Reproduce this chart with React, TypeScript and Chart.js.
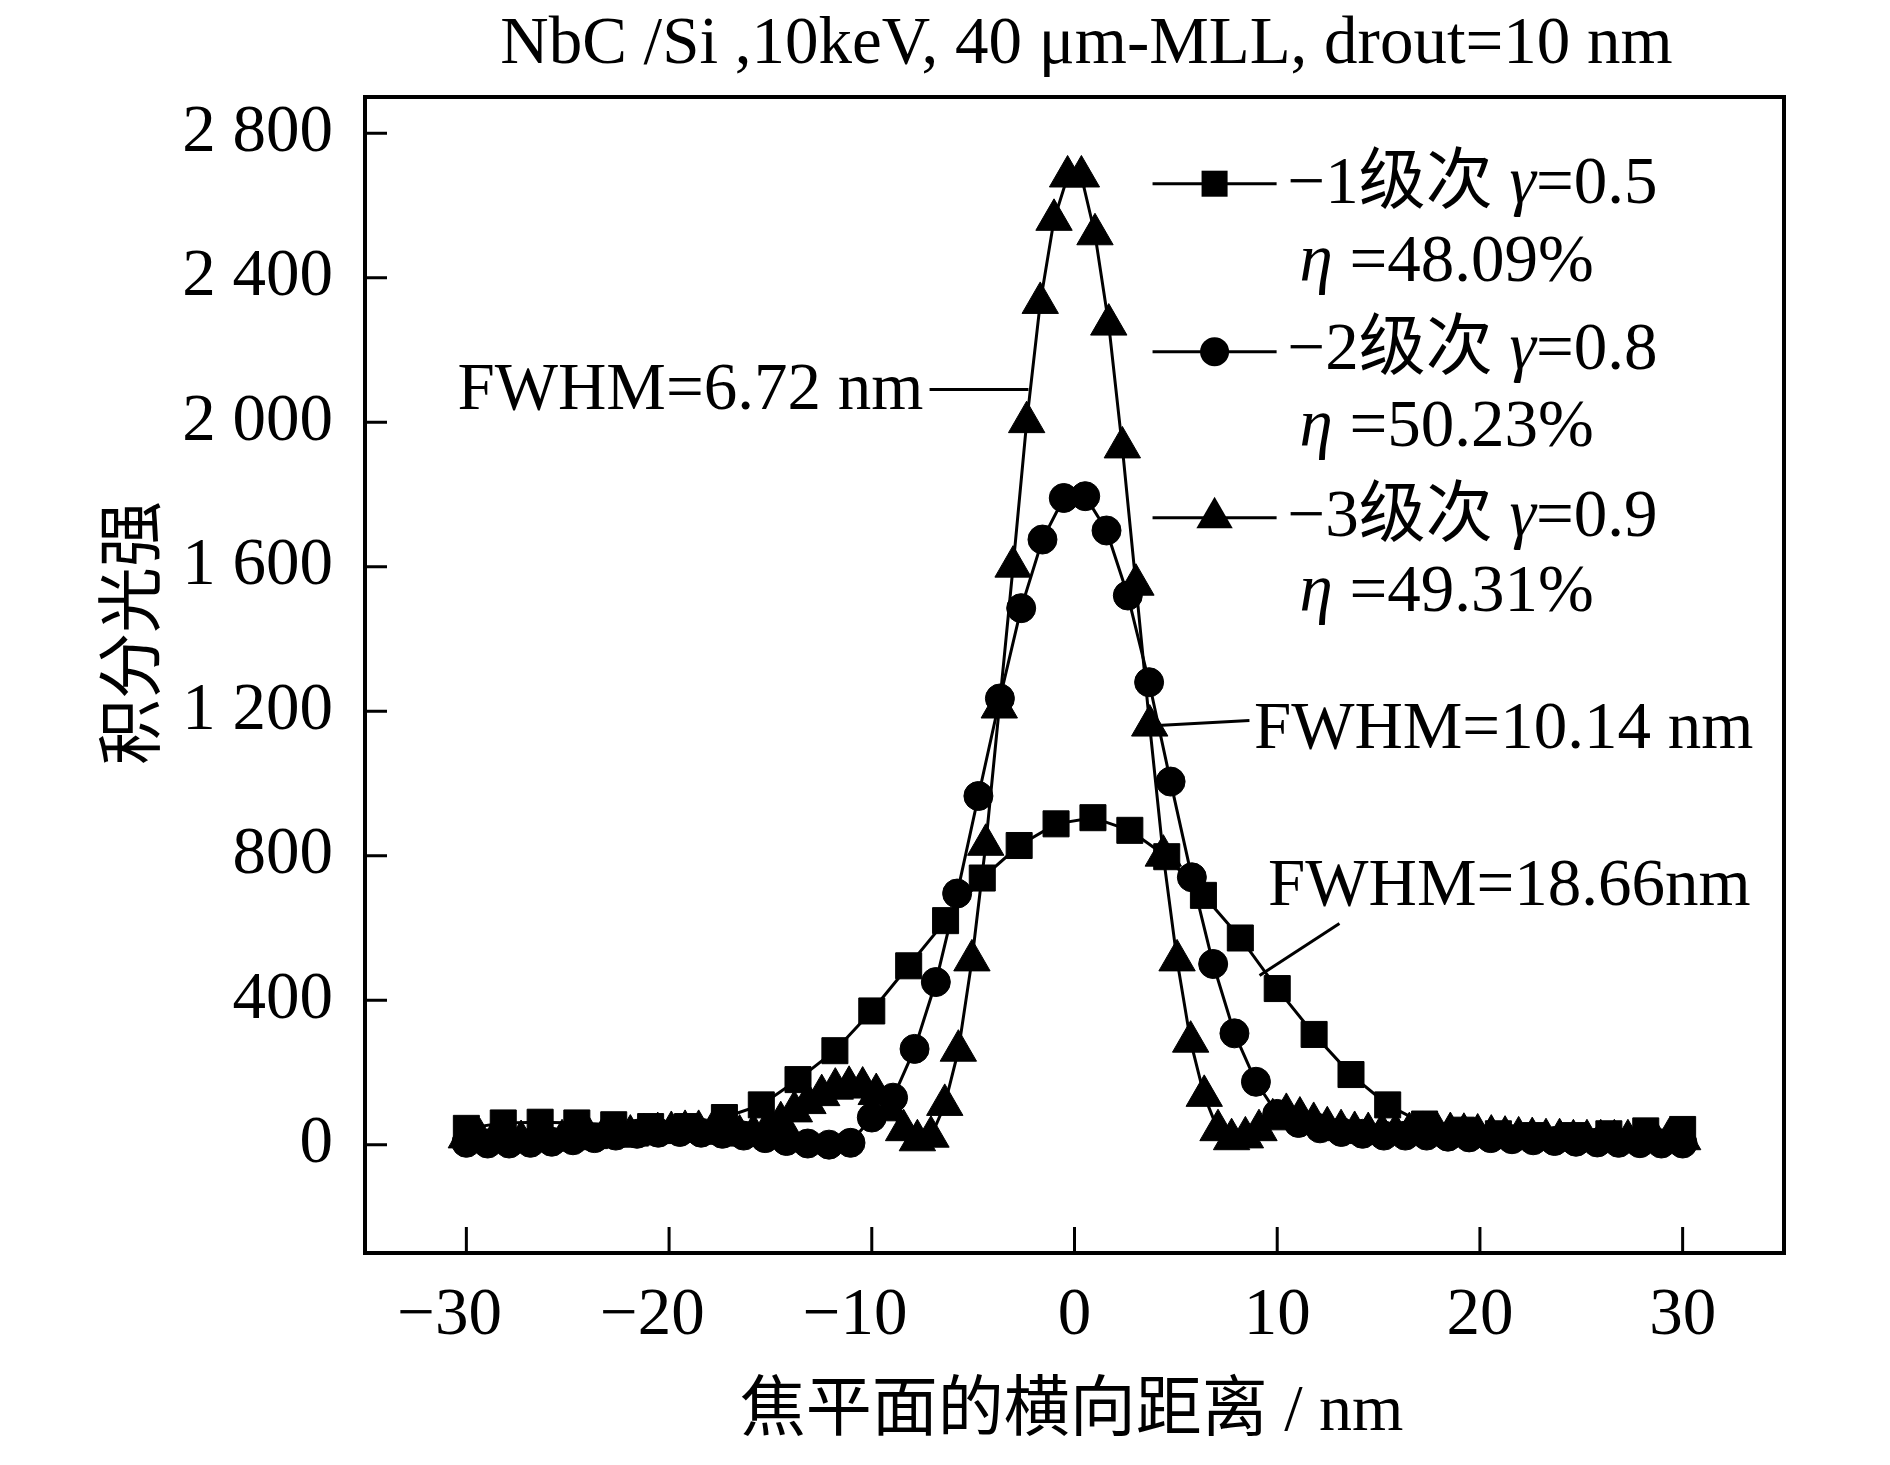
import { useEffect, useRef } from 'react';
import { Chart, registerables } from 'chart.js';

Chart.register(...registerables);

const SERIF = '"Liberation Serif", "Times New Roman", "Noto Sans CJK SC", serif';

const chartTitle = 'NbC /Si ,10keV, 40 μm-MLL, drout=10 nm';
const xTitle = '焦平面的横向距离 / nm';
const yTitle = '积分光强';

const xTicks = [-30, -20, -10, 0, 10, 20, 30];
// trailing en space keeps the digits (not the minus) centred on the tick
const xTickLabels = ['−30\u2002', '−20\u2002', '−10\u2002', '0', '10', '20', '30'];
const yTicks = [0, 400, 800, 1200, 1600, 2000, 2400, 2800];
const yTickLabels = ['0', '400', '800', '1 200', '1 600', '2 000', '2 400', '2 800'];

// -1 order, squares
const order1X = [
  -30, -28.18, -26.36, -24.55, -22.73, -20.91, -19.09, -17.27, -15.45, -13.64,
  -11.82, -10, -8.18, -6.36, -4.55, -2.73, -0.91, 0.91, 2.73, 4.55,
  6.36, 8.18, 10, 11.82, 13.64, 15.45, 17.27, 19.09, 20.91, 22.73,
  24.55, 26.36, 28.18, 30,
];
const order1Y = [
  45, 60, 62, 60, 55, 50, 50, 75, 110, 180,
  260, 370, 495, 620, 738, 828, 888, 905, 870, 797,
  690, 572, 432, 305, 194, 110, 57, 40, 30, 25,
  25, 30, 38, 42,
];

// -2 order, circles
const order2X = [
  -30, -28.95, -27.89, -26.84, -25.79, -24.74, -23.68, -22.63, -21.58, -20.53,
  -19.47, -18.42, -17.37, -16.32, -15.26, -14.21, -13.16, -12.11, -11.05, -10,
  -8.95, -7.89, -6.84, -5.79, -4.74, -3.68, -2.63, -1.58, -0.53, 0.53,
  1.58, 2.63, 3.68, 4.74, 5.79, 6.84, 7.89, 8.95, 10, 11.05,
  12.11, 13.16, 14.21, 15.26, 16.32, 17.37, 18.42, 19.47, 20.53, 21.58,
  22.63, 23.68, 24.74, 25.79, 26.84, 27.89, 28.95, 30,
];
const order2Y = [
  5, 3, 3, 5, 8, 12, 18, 25, 30, 33,
  35, 33, 30, 25, 18, 10, 3, 0, 5, 75,
  130, 265, 450, 695, 965, 1235, 1485, 1675, 1790, 1795,
  1700, 1520, 1280, 1005, 740, 500, 308, 174, 85, 60,
  45, 35, 30, 25, 25, 25, 22, 20, 18, 15,
  12, 10, 8, 6, 5, 4, 3, 3,
];

// -3 order, triangles
const order3X = [
  -30, -29.33, -28.65, -27.98, -27.3, -26.63, -25.96, -25.28, -24.61, -23.93,
  -23.26, -22.58, -21.91, -21.24, -20.56, -19.89, -19.21, -18.54, -17.87, -17.19,
  -16.52, -15.84, -15.17, -14.49, -13.82, -13.15, -12.47, -11.8, -11.12, -10.45,
  -9.78, -9.1, -8.43, -7.75, -7.08, -6.4, -5.73, -5.06, -4.38, -3.71,
  -3.03, -2.36, -1.69, -1.01, -0.34, 0.34, 1.01, 1.69, 2.36, 3.03,
  3.71, 4.38, 5.06, 5.73, 6.4, 7.08, 7.75, 8.43, 9.1, 9.78,
  10.45, 11.12, 11.8, 12.47, 13.15, 13.82, 14.49, 15.17, 15.84, 16.52,
  17.19, 17.87, 18.54, 19.21, 19.89, 20.56, 21.24, 21.91, 22.58, 23.26,
  23.93, 24.61, 25.28, 25.96, 26.63, 27.3, 27.98, 28.65, 29.33, 30,
];
const order3Y = [
  20, 15, 12, 10, 10, 10, 12, 12, 15, 18,
  20, 22, 25, 28, 32, 35, 38, 38, 35, 30,
  25, 28, 40, 62, 92, 115, 137, 155, 160, 158,
  140, 95, 40, 12, 22, 110, 260, 510, 830, 1210,
  1600, 2000, 2330, 2560, 2680, 2680, 2520, 2270, 1930, 1550,
  1160, 800, 510, 285, 135, 40, 15, 20, 40, 70,
  85, 75, 60, 48, 40, 35, 32, 30, 30, 32,
  35, 35, 32, 30, 28, 25, 22, 20, 18, 15,
  15, 12, 12, 12, 12, 12, 12, 12, 15, 15,
];

const seriesNames = ['−1级次 ', '−2级次 ', '−3级次 '];
const gammaValues = ['=0.5', '=0.8', '=0.9'];
const etaValues = [' =48.09%', ' =50.23%', ' =49.31%'];
const fwhmLabels = ['FWHM=6.72 nm', 'FWHM=10.14 nm', 'FWHM=18.66nm'];
const markerStyles = ['rect', 'circle', 'triangle'] as const;
const markerRadius = [18.4, 14.5, 21];

const toPoints = (xs: number[], ys: number[]) => xs.map((x, i) => ({ x, y: ys[i] }));

function drawMarker(ctx: CanvasRenderingContext2D, style: string, x: number, y: number, r: number) {
  ctx.beginPath();
  if (style === 'rect') {
    const s = r * Math.SQRT1_2;
    ctx.rect(x - s, y - s, 2 * s, 2 * s);
  } else if (style === 'circle') {
    ctx.arc(x, y, r, 0, Math.PI * 2);
  } else {
    ctx.moveTo(x, y - r);
    ctx.lineTo(x + r * 0.866, y + r / 2);
    ctx.lineTo(x - r * 0.866, y + r / 2);
    ctx.closePath();
  }
  ctx.fill();
}

function richText(ctx: CanvasRenderingContext2D, parts: [string, boolean][], x: number, y: number) {
  let cx = x;
  for (const [text, italic] of parts) {
    ctx.font = `${italic ? 'italic ' : ''}67px ${SERIF}`;
    ctx.fillText(text, cx, y);
    cx += ctx.measureText(text).width;
  }
}

const decorPlugin = {
  id: 'decor',
  afterDraw(chart: Chart) {
    const { ctx, chartArea: a } = chart;
    const xs = chart.scales.x;
    const ys = chart.scales.y;
    const px = (v: number) => xs.getPixelForValue(v);
    const py = (v: number) => ys.getPixelForValue(v);
    ctx.save();
    ctx.strokeStyle = '#000';
    ctx.fillStyle = '#000';

    // frame and inward ticks
    ctx.lineWidth = 4;
    ctx.strokeRect(a.left, a.top, a.right - a.left, a.bottom - a.top);
    ctx.lineWidth = 3;
    ctx.beginPath();
    xs.ticks.forEach((t) => {
      const x = px(t.value);
      ctx.moveTo(x, a.bottom);
      ctx.lineTo(x, a.bottom - 26);
    });
    ys.ticks.forEach((t) => {
      const y = py(t.value);
      ctx.moveTo(a.left, y);
      ctx.lineTo(a.left + 22, y);
    });
    ctx.stroke();

    // titles
    ctx.textAlign = 'center';
    ctx.textBaseline = 'alphabetic';
    ctx.font = `67px ${SERIF}`;
    ctx.fillText(chartTitle, (a.left + a.right) / 2 + 12, a.top - 34);
    ctx.textBaseline = 'middle';
    ctx.font = `66px ${SERIF}`;
    ctx.fillText(xTitle, (a.left + a.right) / 2 - 3, a.bottom + 160);
    ctx.save();
    ctx.translate(a.left - 228, (a.top + a.bottom) / 2 - 42);
    ctx.rotate(-Math.PI / 2);
    ctx.fillText(yTitle, 0, 0);
    ctx.restore();

    // legend
    ctx.textAlign = 'left';
    ctx.textBaseline = 'alphabetic';
    const rowY = [2660, 2195, 1735];
    const textY = [2607, 2148, 1686];
    const etaY = [2391, 1935, 1478];
    rowY.forEach((ry, i) => {
      ctx.lineWidth = 3;
      ctx.beginPath();
      ctx.moveTo(px(3.85), py(ry));
      ctx.lineTo(px(9.97), py(ry));
      ctx.stroke();
      drawMarker(ctx, markerStyles[i], px(6.91), py(ry), markerRadius[i]);
      richText(ctx, [[seriesNames[i], false], ['γ', true], [gammaValues[i], false]], px(10.51), py(textY[i]));
      richText(ctx, [['η', true], [etaValues[i], false]], px(11.1), py(etaY[i]));
    });

    // FWHM notes with leader lines
    const notes = [
      { tx: -30.44, ty: 2037, x1: -7.15, y1: 2090, x2: -2.27, y2: 2090 },
      { tx: 8.85, ty: 1099, x1: 4.1, y1: 1160, x2: 8.63, y2: 1174 },
      { tx: 9.55, ty: 664, x1: 9.13, y1: 468, x2: 13.07, y2: 612 },
    ];
    ctx.font = `67px ${SERIF}`;
    notes.forEach((n, i) => {
      ctx.fillText(fwhmLabels[i], px(n.tx), py(n.ty));
      ctx.beginPath();
      ctx.moveTo(px(n.x1), py(n.y1));
      ctx.lineTo(px(n.x2), py(n.y2));
      ctx.stroke();
    });
    ctx.restore();
  },
};

export default function App() {
  const canvasRef = useRef<HTMLCanvasElement>(null);

  useEffect(() => {
    const canvas = canvasRef.current;
    if (!canvas) return;
    const ctx = canvas.getContext('2d');
    if (!ctx) return;

    const series = [
      toPoints(order1X, order1Y),
      toPoints(order2X, order2Y),
      toPoints(order3X, order3Y),
    ];

    const chart = new Chart(ctx, {
      type: 'scatter',
      data: {
        datasets: series.map((data, i) => ({
          label: seriesNames[i],
          data,
          showLine: true,
          borderColor: '#000',
          borderWidth: 3,
          backgroundColor: '#000',
          pointStyle: markerStyles[i],
          pointRadius: markerRadius[i],
          pointBorderWidth: 1,
          pointBackgroundColor: '#000',
          pointBorderColor: '#000',
          tension: 0,
        })),
      },
      options: {
        animation: false,
        responsive: true,
        maintainAspectRatio: false,
        layout: { padding: { top: 97, right: 106, bottom: 0, left: 0 } },
        plugins: {
          legend: { display: false },
          title: { display: false },
          tooltip: { enabled: false },
        },
        scales: {
          x: {
            type: 'linear',
            min: -35,
            max: 35,
            grid: { display: false, drawTicks: false },
            border: { display: false },
            afterBuildTicks: (scale) => {
              scale.ticks = xTicks.map((value) => ({ value }));
            },
            afterFit: (scale) => {
              scale.height = 212;
            },
            ticks: {
              color: '#000',
              padding: 30,
              maxRotation: 0,
              font: { family: SERIF, size: 67, lineHeight: 1 },
              callback: (value) => xTickLabels[xTicks.indexOf(Number(value))] ?? '',
            },
          },
          y: {
            type: 'linear',
            min: -300,
            max: 2900,
            grid: { display: false, drawTicks: false },
            border: { display: false },
            afterBuildTicks: (scale) => {
              scale.ticks = yTicks.map((value) => ({ value }));
            },
            afterFit: (scale) => {
              scale.width = 365;
            },
            ticks: {
              color: '#000',
              padding: 32,
              font: { family: SERIF, size: 67, lineHeight: 1 },
              callback: (value) => yTickLabels[yTicks.indexOf(Number(value))] ?? '',
            },
          },
        },
      },
      plugins: [decorPlugin],
    });

    return () => {
      chart.destroy();
    };
  }, []);

  return (
    <div style={{ position: 'absolute', left: 0, top: 0, width: 1890, height: 1465, background: '#fff' }}>
      <canvas ref={canvasRef} />
    </div>
  );
}
